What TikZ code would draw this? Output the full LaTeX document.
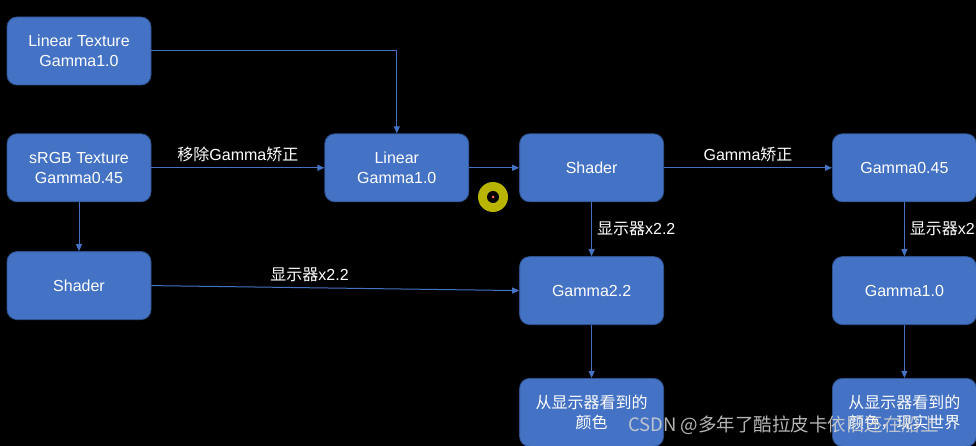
\documentclass[tikz,border=0pt]{standalone}
\usepackage{fontspec}
\setmainfont{Liberation Sans}
\newfontfamily\cjk{Noto Sans CJK SC}
\usepackage{xcolor}
\usepackage{tikz}
\usetikzlibrary{positioning,arrows.meta}
\definecolor{boxblue}{HTML}{4472C4}
\definecolor{boxstroke}{HTML}{2F528F}
\definecolor{arrblue}{HTML}{4472C4}
\definecolor{ringyellow}{HTML}{B8B400}
\definecolor{markgrey}{HTML}{D4D4D4}
\newcommand{\zhtxt}[1]{{\cjk #1}}
\tikzset{
  box/.style  = {rounded corners=10pt, draw=boxstroke, fill=boxblue, align=center,
                 text=white, font=\fontsize{16}{20}\selectfont, inner sep=4pt,
                 minimum width=144pt, minimum height=68pt, line width=0.8pt},
  arr/.style  = {-{Triangle[length=7pt,width=6pt]}, line width=1pt, draw=arrblue},
  lab/.style  = {font=\fontsize{16}{20}\selectfont, text=white, inner sep=5pt, midway},
  wmark/.style = {font=\cjk\fontsize{18.5}{22}\selectfont, text=markgrey, opacity=0.85,
                  inner sep=0pt},
}

\begin{document}
\begin{tikzpicture}[x=1pt, y=-1pt]
  \fill[black] (0,0) rectangle (976,446);
  \useasboundingbox (0,0) rectangle (976,446);

  \node[box] (lintex) at (79,51) {Linear Texture\\Gamma1.0};
  \node[box, below=48pt of lintex] (srgb)   {sRGB Texture\\Gamma0.45};
  \node[box, below=49pt of srgb]   (shadl)  {Shader};
  \node[box, right=173pt of srgb]  (linear) {Linear\\Gamma1.0};
  \node[box, right=50pt of linear] (shadr)  {Shader};
  \node[box, right=168pt of shadr] (gout)   {Gamma0.45};
  \node[box, below=54pt of shadr]  (gdisp)  {Gamma2.2};
  \node[box, below=53pt of gdisp]  (seen)   {\zhtxt{从显示器看到的}\\\zhtxt{颜色}};
  \node[box, below=54pt of gout]   (glin)   {Gamma1.0};
  \node[box, below=53pt of glin]   (real)   {\zhtxt{从显示器看到的}\\\zhtxt{颜色，现实世界}};

  \draw[arr] (lintex.east) -| (linear.north);
  \draw[arr] (srgb) -- node[lab,above]{\zhtxt{移除}Gamma\zhtxt{矫正}} (linear);
  \draw[arr] (srgb) -- (shadl);
  \draw[arr] (shadl.east) -- node[lab,above,pos=0.43]{\zhtxt{显示器}x2.2} (gdisp.west);
  \draw[arr] (linear) -- (shadr);
  \draw[arr] (shadr) -- node[lab,above]{Gamma\zhtxt{矫正}} (gout);
  \draw[arr] (shadr) -- node[lab,right]{\zhtxt{显示器}x2.2} (gdisp);
  \draw[arr] (gdisp) -- (seen);
  \draw[arr] (gout) -- node[lab,right]{\zhtxt{显示器}x2.2} (glin);
  \draw[arr] (glin) -- (real);

  % cursor highlight
  \fill[ringyellow] (493,197) circle (15);
  \fill[black] (493,197) circle (6);
  \fill[red!60!white] (493,197) circle (1.5);

  \node[wmark, anchor=west] (mark) at (628,425) {CSDN @多年了酷拉皮卡依旧还在船上};
\end{tikzpicture}
\end{document}
